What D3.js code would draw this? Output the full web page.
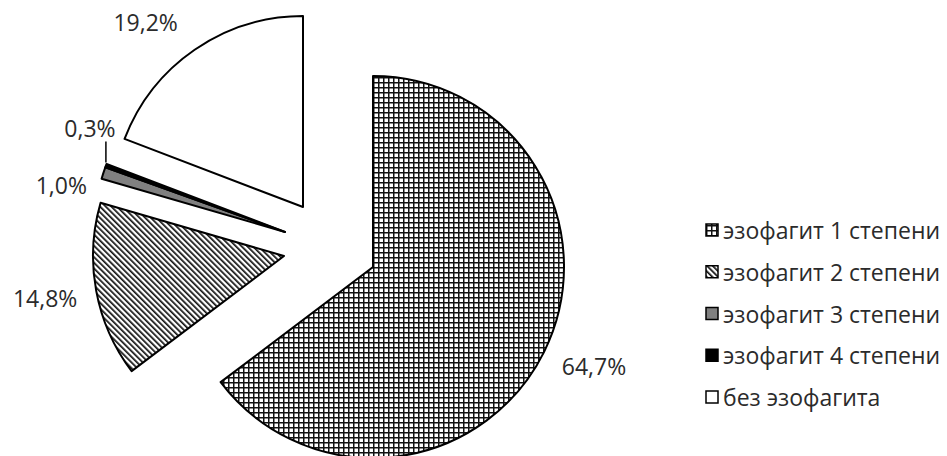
<!DOCTYPE html>
<html>
<head>
<meta charset="utf-8">
<script src="https://cdn.jsdelivr.net/npm/d3@7"></script>
<style>
  html, body { margin: 0; padding: 0; background: #fff; }
  svg { display: block; }
</style>
</head>
<body>
<svg id="chart" width="947" height="456"></svg>
<script>
// Distribution of esophagitis grades (percent of patients)
const categories = ["эзофагит 1 степени", "эзофагит 2 степени", "эзофагит 3 степени", "эзофагит 4 степени", "без эзофагита"];
const shares = [64.7, 14.8, 1.0, 0.3, 19.2];
const shareLabels = ["64,7%", "14,8%", "1,0%", "0,3%", "19,2%"];

// Layout
const W = 947, H = 456;
const center = [308, 237];
const radius = 191;
// per-slice explosion shift (dx, dy) from the common centre
const explode = [[65, 30], [-24, 19], [-23, -5], [-23, -5], [-5, -30]];
// label nudge from the slice's outer arc midpoint
const labelNudge = [[50, 14], [-51, 7], [-42, 12], [-16, -38], [-49, -28]];
const fills = ["url(#grid)", "url(#hatch)", "#808080", "#000000", "#ffffff"];
const fontFamily = "'Open Sans', 'Noto Sans', sans-serif";
const textColor = "#2b2b2b";

const svg = d3.select("#chart");
svg.append("rect").attr("width", W).attr("height", H).attr("fill", "#fff");

// Fill patterns
const defs = svg.append("defs");
const grid = defs.append("pattern").attr("id", "grid")
  .attr("patternUnits", "userSpaceOnUse").attr("width", 5).attr("height", 5);
grid.append("rect").attr("width", 5).attr("height", 5).attr("fill", "#fff");
grid.append("rect").attr("width", 5).attr("height", 1.5).attr("fill", "#111");
grid.append("rect").attr("width", 1.5).attr("height", 5).attr("fill", "#111");

const hatch = defs.append("pattern").attr("id", "hatch")
  .attr("patternUnits", "userSpaceOnUse").attr("width", 4).attr("height", 4)
  .attr("patternTransform", "rotate(-45)");
hatch.append("rect").attr("width", 4).attr("height", 4).attr("fill", "#fff");
hatch.append("rect").attr("width", 1.7).attr("height", 4).attr("fill", "#111");

// Pie layout: clockwise from 12 o'clock, data order kept
const pie = d3.pie().sort(null).value(d => d);
const arcs = pie(shares);
const arc = d3.arc().innerRadius(0).outerRadius(radius);

const g = svg.append("g").attr("transform", `translate(${center[0]},${center[1]})`);

g.selectAll("path.slice")
  .data(arcs)
  .join("path")
  .attr("class", "slice")
  .attr("transform", (d, i) => `translate(${explode[i][0]},${explode[i][1]})`)
  .attr("d", arc)
  .attr("fill", (d, i) => fills[i])
  .attr("stroke", "#000")
  .attr("stroke-width", 2)
  .attr("stroke-linejoin", "round");

// Percent labels placed off each slice's outer arc midpoint
function outerMid(d, i) {
  const a = (d.startAngle + d.endAngle) / 2;
  return [explode[i][0] + Math.sin(a) * radius, explode[i][1] - Math.cos(a) * radius];
}

g.selectAll("text.pct")
  .data(arcs)
  .join("text")
  .attr("class", "pct")
  .attr("x", (d, i) => outerMid(d, i)[0] + labelNudge[i][0])
  .attr("y", (d, i) => outerMid(d, i)[1] + labelNudge[i][1])
  .attr("text-anchor", "middle")
  .attr("dominant-baseline", "central")
  .attr("font-family", fontFamily)
  .attr("font-size", 23)
  .attr("fill", textColor)
  .text((d, i) => shareLabels[i]);

// Leader line for the thin 0,3% slice
const thin = arcs[3];
const tip = outerMid(thin, 3);
g.append("line")
  .attr("x1", tip[0]).attr("y1", tip[1] - 3)
  .attr("x2", tip[0]).attr("y2", tip[1] - 24)
  .attr("stroke", "#000").attr("stroke-width", 1.5);

// Legend
const legendY = d3.scalePoint().domain(categories).range([230, 397]);
const legend = svg.append("g").attr("transform", "translate(706,0)");
const rows = legend.selectAll("g.row").data(categories).join("g")
  .attr("class", "row")
  .attr("transform", d => `translate(0,${legendY(d)})`);
rows.append("rect")
  .attr("x", 0).attr("y", -6).attr("width", 12).attr("height", 12)
  .attr("fill", (d, i) => fills[i])
  .attr("stroke", "#000").attr("stroke-width", 1.5);
rows.append("text")
  .attr("x", 17).attr("y", 0)
  .attr("dominant-baseline", "central")
  .attr("font-family", fontFamily)
  .attr("font-size", 23)
  .attr("fill", textColor)
  .text(d => d);
</script>
</body>
</html>
